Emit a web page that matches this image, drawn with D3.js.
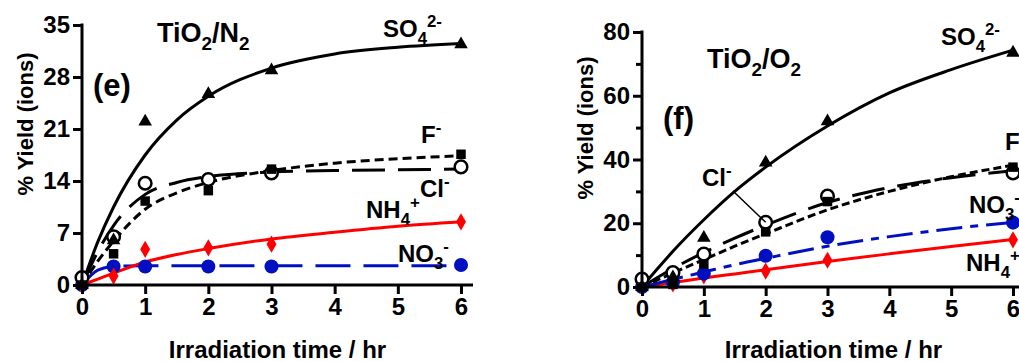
<!DOCTYPE html>
<html>
<head>
<meta charset="utf-8">
<script src="https://cdn.jsdelivr.net/npm/d3@7.9.0/dist/d3.min.js"></script>
<style>
  body { margin: 0; background: #fff; }
  svg { display: block; font-family: "Liberation Sans", Arial, sans-serif; font-weight: bold; }
  .axis path, .axis line { stroke: #000; stroke-width: 3; }
  .axis text { font-size: 24px; font-weight: bold; fill: #000; font-family: "Liberation Sans", Arial, sans-serif; }
</style>
</head>
<body>
<svg id="chart" width="1019" height="362"></svg>
<script>
// sampling times
const times = [0, 0.5, 1, 2, 3, 6];
const fitTimes = [0, 0.25, 0.5, 1, 1.5, 2, 3, 4, 5, 6];

// (e) TiO2/N2 measured values
const so4N = [0, 6, 22, 25.7, 28.9, 32.4];
const fN = [0, 4.2, 11.3, 12.7, 15.6, 17.6];
const clN = [1, 6.5, 13.7, 14.2, 15.1, 15.9];
const nh4N = [0, 1.2, 4.8, 5.0, 5.5, 8.5];
const no3N = [0, 2.5, 2.5, 2.5, 2.5, 2.7];
// (e) fitted curves at fitTimes
const so4NFit = [0, 5.8, 10.5, 17.5, 22.2, 25.4, 29.2, 31.1, 32.0, 32.5];
const fNFit = [0, 3.2, 5.9, 10.2, 12.4, 13.8, 15.4, 16.4, 17.0, 17.4];
const clNFit = [0, 4.5, 8.0, 12.2, 13.8, 14.6, 15.2, 15.4, 15.5, 15.6];
const nh4NFit = [0, 0.8, 1.6, 3.1, 4.1, 4.9, 6.2, 7.1, 7.9, 8.5];
const no3NFit = [0, 2.0, 2.5, 2.6, 2.6, 2.6, 2.6, 2.6, 2.6, 2.6];

// (f) TiO2/O2 measured values
const so4O = [0, 3, 15.4, 39, 52, 73.5];
const fO = [0, 0.8, 7.2, 17.3, 26.8, 37.6];
const clO = [2.5, 4.5, 10.3, 20.3, 28.5, 35.8];
const no3O = [0, 1.5, 4.2, 9.8, 15.6, 20.2];
const nh4O = [0, 1.0, 3.5, 5.0, 8.4, 14.8];
// (f) fitted curves
const so4OFit = [0, 5.7, 11.2, 21.1, 30.0, 37.6, 50.5, 60.9, 68.2, 74.3];
const fOFit = [0, 2.2, 4.4, 8.6, 12.8, 16.7, 24.2, 30.0, 34.6, 38.2];
const clOFit = [0, 3.0, 5.8, 10.8, 15.3, 19.4, 26.5, 31.2, 34.3, 36.5];
const no3OFit = [0, 1.2, 2.4, 4.7, 7.0, 9.0, 12.8, 15.8, 18.3, 20.3];
const nh4OFit = [0, 0.7, 1.4, 2.8, 4.1, 5.4, 8.0, 10.4, 12.7, 14.9];

// tick labels
const xTicks = [0, 1, 2, 3, 4, 5, 6];
const yTicksN = [0, 7, 14, 21, 28, 35];
const yTicksO = [0, 20, 40, 60, 80];
const yMinorO = [10, 30, 50, 70];

const svg = d3.select('#chart');

// text with sub/superscripts: parts = [[text, 'sub'|'sup'|null], ...]
function richText(g, x, y, parts, size) {
  const t = g.append('text').attr('x', x).attr('y', y).attr('font-size', size);
  let off = 0;
  parts.forEach(([s, k]) => {
    const target = k === 'sub' ? size * 0.28 : k === 'sup' ? -size * 0.42 : 0;
    t.append('tspan')
      .attr('dy', target - off)
      .attr('font-size', k ? size * 0.7 : size)
      .text(s);
    off = target;
  });
  return t;
}

const styles = {
  so4: { color: '#000', dash: null, sym: d3.symbolTriangle, size: 80, fill: '#000' },
  f: { color: '#000', dash: '9,5', sym: d3.symbolSquare, size: 90, fill: '#000' },
  cl: { color: '#000', dash: '33,13', sym: d3.symbolCircle, size: 125, fill: '#fff' },
  nh4: { color: '#ff0000', dash: null, sym: d3.symbolDiamond, size: 85, fill: '#ff0000' },
  no3: { color: '#0010c0', dash: '35,13', sym: d3.symbolCircle, size: 155, fill: '#0010c0' },
};

function drawPanel(cfg) {
  const x = d3.scaleLinear().domain([0, 6]).range(cfg.xr);
  const y = d3.scaleLinear().domain([0, cfg.ymax]).range(cfg.yr);
  const g = svg.append('g');

  // fitted curves
  const line = d3.line().x((d) => x(d[0])).y((d) => y(d[1])).curve(d3.curveMonotoneX);
  cfg.series.forEach((s) => {
    const st = styles[s.key];
    g.append('path')
      .attr('d', line(fitTimes.map((t, i) => [t, s.fit[i]])))
      .attr('fill', 'none')
      .attr('stroke', st.color)
      .attr('stroke-width', 3)
      .attr('stroke-dasharray', s.dash || st.dash);
  });

  // markers
  cfg.series.forEach((s) => {
    const st = styles[s.key];
    g.selectAll(null)
      .data(times.map((t, i) => [t, s.vals[i]]))
      .join('path')
      .attr('transform', (d) => `translate(${x(d[0])},${y(d[1])})`)
      .attr('d', d3.symbol(st.sym, st.size))
      .attr('fill', st.fill)
      .attr('stroke', s.key === 'cl' ? '#000' : 'none')
      .attr('stroke-width', 2.5);
  });

  // axes
  const xa = g.append('g').attr('class', 'axis')
    .attr('transform', `translate(0,${cfg.yr[0]})`)
    .call(d3.axisBottom(x).tickValues(xTicks).tickFormat(d3.format('d')).tickSize(9).tickPadding(4).tickSizeOuter(0));
  xa.select('.domain').attr('d', `M${cfg.xr[0] - 1.5},0H${cfg.xEnd}`);

  const ya = g.append('g').attr('class', 'axis')
    .attr('transform', `translate(${cfg.xr[0]},0)`)
    .call(d3.axisLeft(y).tickValues(cfg.yTicks).tickSize(9).tickPadding(3).tickSizeOuter(0));
  ya.select('.domain').attr('d', `M0,${cfg.yr[0]}V${cfg.yr[1] - 1.5}`);
  if (cfg.yMinor) {
    g.append('g').attr('class', 'axis')
      .attr('transform', `translate(${cfg.xr[0]},0)`)
      .call(d3.axisLeft(y).tickValues(cfg.yMinor).tickSize(6).tickFormat('').tickSizeOuter(0))
      .select('.domain').remove();
  }

  // axis titles
  g.append('text')
    .attr('x', (cfg.xr[0] + cfg.xr[1]) / 2 + cfg.xTitleDx)
    .attr('y', 358)
    .attr('text-anchor', 'middle')
    .attr('font-size', 24)
    .text('Irradiation time / hr');
  g.append('text')
    .attr('transform', `translate(${cfg.yTitleX},${cfg.yTitleY}) rotate(-90)`)
    .attr('text-anchor', 'middle')
    .attr('font-size', 22)
    .text('% Yield (ions)');

  // panel texts
  cfg.labels.forEach((l) => richText(g, l.x, l.y, l.parts, l.size));

  return { g, x, y };
}

drawPanel({
  xr: [82, 461], xEnd: 473, yr: [285, 25], ymax: 35, yTicks: yTicksN,
  xTitleDx: 6, yTitleX: 33, yTitleY: 124,
  series: [
    { key: 'no3', vals: no3N, fit: no3NFit },
    { key: 'nh4', vals: nh4N, fit: nh4NFit },
    { key: 'cl', vals: clN, fit: clNFit },
    { key: 'f', vals: fN, fit: fNFit },
    { key: 'so4', vals: so4N, fit: so4NFit },
  ],
  labels: [
    { x: 157, y: 42, size: 27, parts: [['TiO'], ['2', 'sub'], ['/N'], ['2', 'sub']] },
    { x: 93, y: 96, size: 31, parts: [['(e)']] },
    { x: 383, y: 37, size: 24, parts: [['SO'], ['4', 'sub'], ['2-', 'sup']] },
    { x: 421, y: 143, size: 24, parts: [['F'], ['-', 'sup']] },
    { x: 420, y: 197, size: 24, parts: [['Cl'], ['-', 'sup']] },
    { x: 366, y: 218, size: 24, parts: [['NH'], ['4', 'sub'], ['+', 'sup']] },
    { x: 398, y: 262, size: 24, parts: [['NO'], ['3', 'sub'], ['-', 'sup']] },
  ],
});

const right = drawPanel({
  xr: [642, 1013], xEnd: 1030, yr: [287, 32], ymax: 80, yTicks: yTicksO, yMinor: yMinorO,
  xTitleDx: 6, yTitleX: 593, yTitleY: 128,
  series: [
    { key: 'nh4', vals: nh4O, fit: nh4OFit },
    { key: 'no3', vals: no3O, fit: no3OFit, dash: '26,8,8,8' },
    { key: 'cl', vals: clO, fit: clOFit },
    { key: 'f', vals: fO, fit: fOFit, dash: '8,4' },
    { key: 'so4', vals: so4O, fit: so4OFit },
  ],
  labels: [
    { x: 707, y: 68, size: 27, parts: [['TiO'], ['2', 'sub'], ['/O'], ['2', 'sub']] },
    { x: 663, y: 129, size: 31, parts: [['(f)']] },
    { x: 941, y: 45, size: 24, parts: [['SO'], ['4', 'sub'], ['2-', 'sup']] },
    { x: 1005, y: 150, size: 24, parts: [['F'], ['-', 'sup']] },
    { x: 702, y: 186, size: 24, parts: [['Cl'], ['-', 'sup']] },
    { x: 969, y: 213, size: 24, parts: [['NO'], ['3', 'sub'], ['-', 'sup']] },
    { x: 966, y: 271, size: 24, parts: [['NH'], ['4', 'sub'], ['+', 'sup']] },
  ],
});

// leader from the Cl- label to its point at 2 h
right.g.append('line')
  .attr('x1', 733).attr('y1', 191)
  .attr('x2', right.x(2)).attr('y2', right.y(clO[3]))
  .attr('stroke', '#000').attr('stroke-width', 1.5);
</script>
</body>
</html>
